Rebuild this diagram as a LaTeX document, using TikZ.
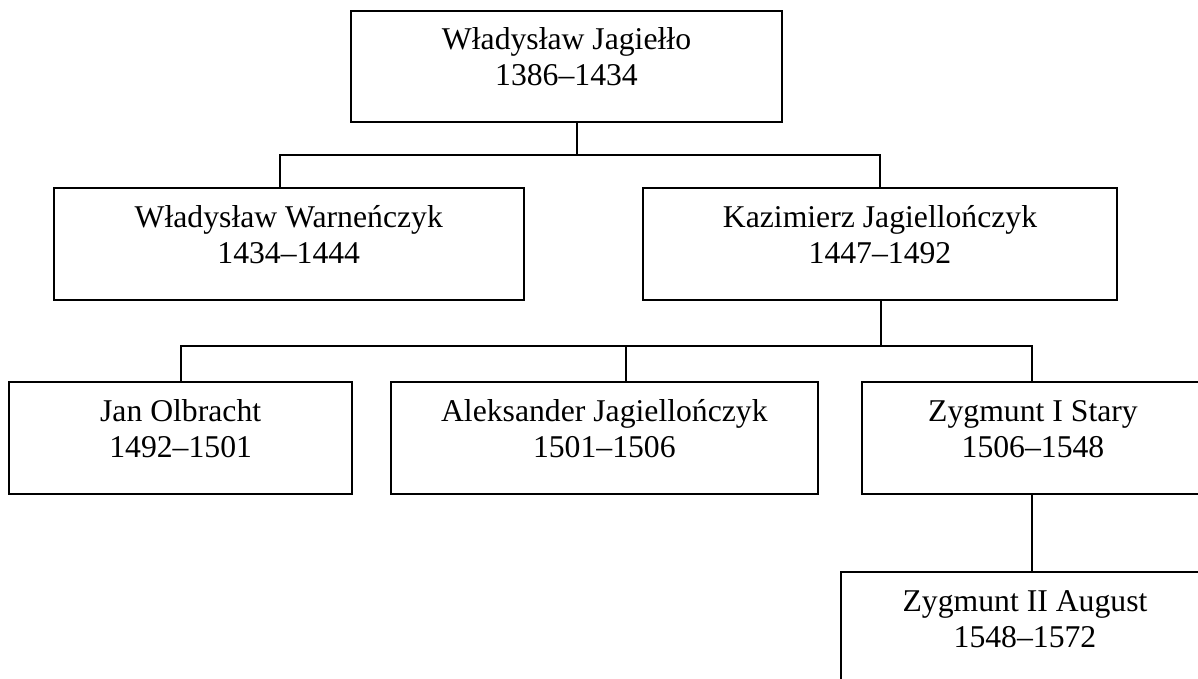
\documentclass[tikz,border=0pt]{standalone}
\usepackage{fontspec}
\setmainfont{Liberation Serif}
\newcommand\ptxt[2]{\vbox to 111.5pt{\hbox{\begin{tabular}[t]{@{}c@{}}\rule{0pt}{39pt}#1\\#2\end{tabular}}\vfil}}
\tikzset{
  person/.style={draw=black, line width=2pt, rectangle, inner sep=0pt, outer sep=0pt,
    anchor=north west, minimum height=111.5pt, font=\fontsize{31.7}{36}\selectfont},
  conn/.style={draw=black, line width=2pt},
}
\begin{document}
\begin{tikzpicture}[x=1pt, y=-1pt]
\clip (0,0) rectangle (1198,679);
\fill[white] (0,0) rectangle (1198,679);

\node[person, minimum width=431pt]   (b1) at (351,11)   {\ptxt{Władysław Jagiełło}{1386–1434}};
\node[person, minimum width=470.5pt] (b2) at (53.5,188) {\ptxt{Władysław Warneńczyk}{1434–1444}};
\node[person, minimum width=474pt]   (b3) at (643,188)  {\ptxt{Kazimierz Jagiellończyk}{1447–1492}};
\node[person, minimum width=342.7pt] (b4) at (9.3,382)  {\ptxt{Jan Olbracht}{1492–1501}};
\node[person, minimum width=426.7pt] (b5) at (391,382)  {\ptxt{Aleksander Jagiellończyk}{1501–1506}};
\node[person, minimum width=342pt]   (b6) at (862,382)  {\ptxt{Zygmunt I Stary}{1506–1548}};
\node[person, minimum width=368pt]   (b7) at (841,572)  {\ptxt{Zygmunt II August}{1548–1572}};

\coordinate (j1) at (577,155);
\coordinate (s2) at (279.5,155);
\coordinate (s3) at (880,155);
\draw[conn] (b1.south -| j1) -- (j1);
\draw[conn] (b2.north -| s2) -- (s2) -- (s3) -- (b3.north -| s3);

\coordinate (j2) at (881,346);
\coordinate (s4) at (180.6,346);
\coordinate (s5) at (625.6,346);
\coordinate (s6) at (1031.5,346);
\draw[conn] (b3.south -| j2) -- (j2);
\draw[conn] (b4.north -| s4) -- (s4) -- (s6) -- (b6.north -| s6);
\draw[conn] (s5) -- (b5.north -| s5);
\draw[conn] (b6.south -| s6) -- (b7.north -| s6);
\end{tikzpicture}
\end{document}
